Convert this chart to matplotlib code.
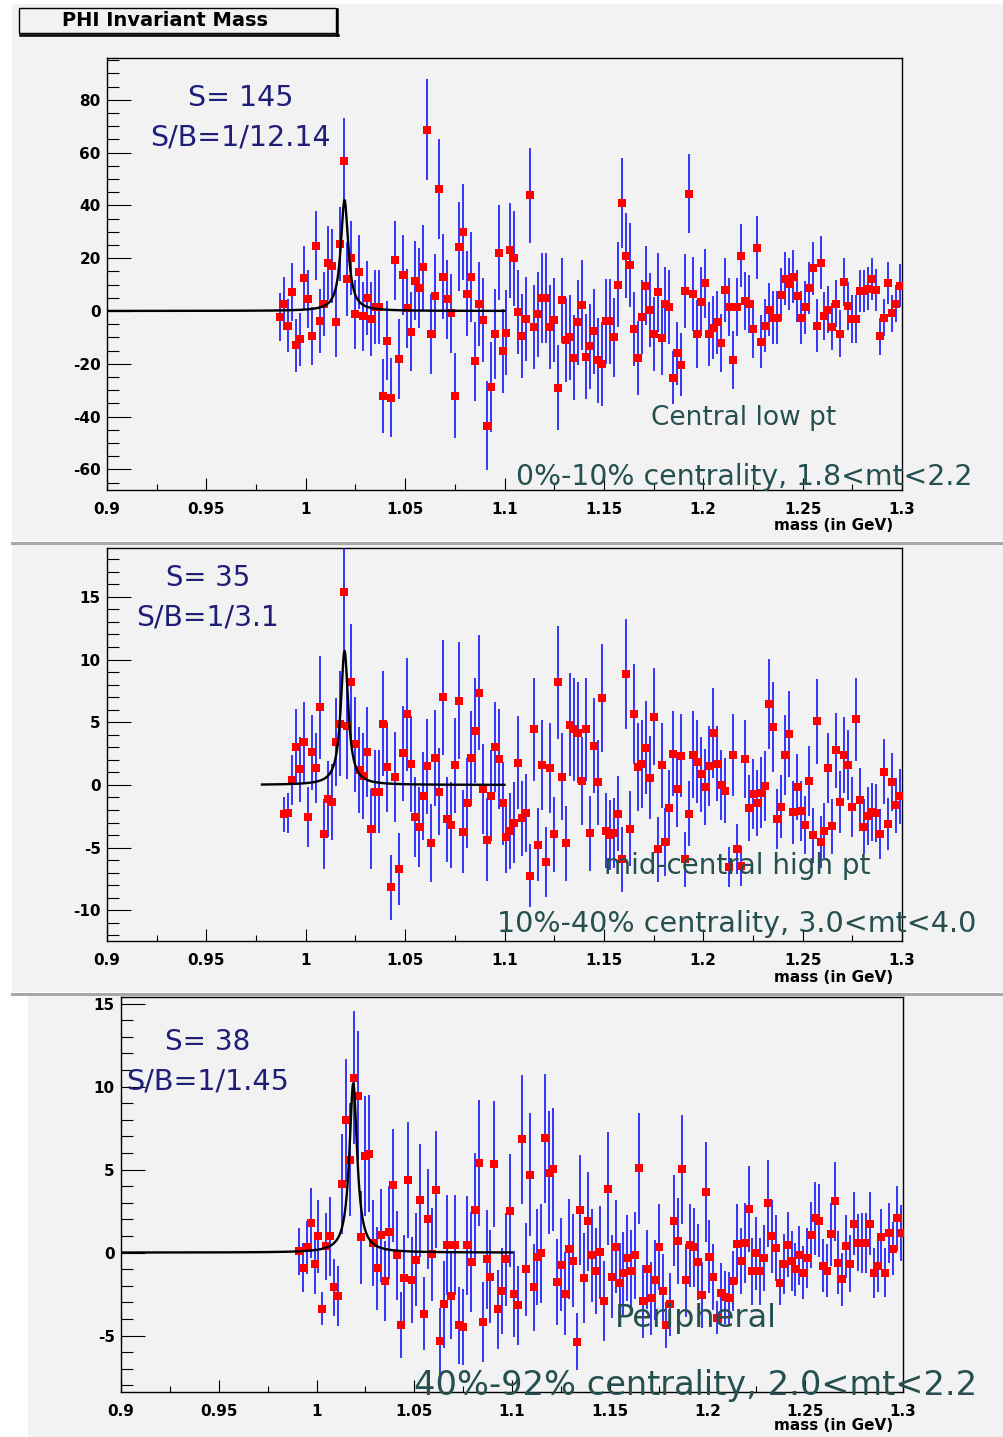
import numpy as np
import matplotlib
matplotlib.use('Agg')
import matplotlib.pyplot as plt
from matplotlib.patches import Rectangle
from matplotlib.lines import Line2D
from matplotlib.ticker import MultipleLocator, FixedLocator

# ---------------- data ----------------
x_ticks = [0.9, 0.95, 1.0, 1.05, 1.1, 1.15, 1.2, 1.25, 1.3]
x_tick_labels = ["0.9", "0.95", "1", "1.05", "1.1", "1.15", "1.2", "1.25", "1.3"]
bin_width = 0.002

# panel 1: central low pt
p1_start = 0.987
p1_vals = [-2.2, 2.7, -5.6, 7.1, -13, -10.7, 12.6, 4.4, -9.5, 24.7, -3.8, 2.7, 18.3, 17, -4.3, 25.3, 56.9, 12.1,
           20.1, -1.3, 14.8, -2, 4.9, -2.9, 1.4, 1.6, -32.1, -11.2, -32.8, 19.2, -18.2, 13.6, 1, -7.8, 11.4, 8.7,
           16.5, 68.7, -8.7, 5.7, 46.1, 13, 4.4, -0.9, -32.1, 24.4, 29.9, 6.6, 13, -19.1, 2.7, -3.4, -43.4, -28.7,
           -8.7, 22.1, -15.2, -8.2, 23, 20, -0.4, -9.5, -3, 43.9, -6.1, -1.3, 4.8, 4.8, -6.1, -3.4, -29, 4, -11, -10,
           -17.7, -4.3, 2.3, -17.3, -13.4, -7.7, -18.7, -20, -3.9, -3.9, -10, 10, 40.8, 21, 17.4, -6.8, -17.8, -2.2,
           9.6, 0.5, -8.7, 7.1, -10.4, 2.6, 1.4, -25.3, -16, -20.3, 7.5, 44.4, 6.6, -8.7, 3.5,
           10.5, -8.7, -6.3, -4.3, -12.1, 8, 1.4, -18.6, 1.4, 21, 3.7, 2.8, -6.8, 24, -11.6, -5.6, 0.5, -2.5, -2.5,
           6.2, 12.2, 10.2, 13, 5.7, -2.5, 1.4, 8.7, 16.2, -5.6, 18.3, -2, 0.5, -5.9, 2.8, -8.6, 11, 1.8, -3, -3,
           7.5, 7.5, 8.5, 12.2, 8, -9.5, -2.5, 10.5, -0.8, 2.8, 9.6]
p1_errs = [9, 10, 10, 11, 10, 10, 12, 11, 11, 13, 12, 12, 14, 14, 13, 14, 16, 14, 14, 13, 14, 13, 14, 14, 14, 14,
           14, 15, 15, 15, 15, 15, 15, 15, 15, 15, 16, 19, 15, 16, 19, 16, 15, 15, 16, 17, 18, 16, 17, 15, 16, 16,
           17, 17,
           17, 18, 16, 16, 18, 18, 16, 16, 16, 18, 16, 16, 17, 17, 16, 16, 16, 16, 16, 16, 16, 16, 17, 16, 16, 16,
           16, 16, 16, 16, 15, 16, 17, 16, 16, 14, 14, 14, 15, 14, 14, 15, 14, 14, 14, 10, 12, 12, 14, 15, 14, 13, 13,
           13, 12, 12, 12, 11, 12, 11, 11, 11, 12, 11, 11, 11, 12, 10, 10, 10, 10, 10, 10, 10, 10, 10, 10, 10, 10,
           10, 10, 10, 10, 9, 9, 9, 9, 9, 9, 9, 9, 9, 8, 8, 8, 8, 8, 7, 7, 8, 7, 7, 8]
p1_fit = dict(amp=42.0, m0=1.0195, gamma=0.0045, lo=0.9, hi=1.1)
p1_yticks = [-60, -40, -20, 0, 20, 40, 60, 80]

# panel 2: mid-central high pt
p2_start = 0.989
p2_vals = [-2.34, -2.26, 0.4, 3.06, 1.25, 3.43, -2.53, 2.61, 1.33, 6.2, -3.94, -1.12, -1.36, 3.43, 4.9, 15.4, 4.7,
           8.2, 3.25, 1.2, 0.72, 2.61, -3.49, -0.53, -0.53, 4.9, 1.41, -8.17, 0.61, -6.7, 2.53, 5.64, 1.68, -2.55,
           -3.38, -0.9, 1.49, -4.65, 2.15, -0.53, 7, -2.74, -3.19, 1.57, 6.73, -3.72, -1.46, 2.13, 4.34, 7.37, -0.35,
           -4.36, -0.85,
           3.03, 2.05, -1.46, -4.12, -3.67, -3, 1.76, -2.66, -2.26, -7.24, 4.44, -4.76, 1.57, -6.15, 1.33, -3.94, 8.2,
           0.67, -4.65, 4.82, 4.44, 4.18, 0.29, 4.44, -3.86, 3.14, 0.21, 6.92, -3.64, -4.02, -3.83, -2.29, -5.93,
           8.83, -3.49, 5.64, 1.44, 1.68, 2.98, 0.59, 5.45, -5.13, 1.57, -4.55, -1.81, 2.5, -0.35, 2.34, -5.93, -2.29,
           2.42, 1.86, 0.85,
           -0.16, 1.49, 4.15, 1.68, 0, -0.45, -6.52, 2.39, -5.13, -6.44, 2.05, -1.84, -0.72, -1.44, -0.61, -0.08,
           6.46, 4.6, -2.74, -1.73, 2.39, 4.07, -2.18, -0.16, -2.1, -3.22, 0.29, -4.02, 5.08, -4.55, -3.64, 1.33,
           -3.3, 2.77, -1.36, 2.39, 1.57, -1.73, 5.24, -1.17, -3.32, -2.47, -2.18, -2.26, -3.94, 1.04, -3.11, 0.21,
           -1.62, -0.9]
p2_errs = [1.4, 1.6, 2.0, 3.0, 2.6, 3.2, 2.4, 3.0, 2.8, 4.1, 2.8, 3.0, 3.0, 3.5, 4.2, 4.6, 4.2, 4.6, 3.8, 3.4, 3.4,
           3.6, 3.2, 3.3, 3.3, 4.2, 3.6, 2.6, 3.6, 2.9, 3.8, 4.5, 3.8, 3.2, 3.2, 3.5, 3.8, 3.1, 3.8, 3.5, 4.6, 3.4,
           3.4, 3.8, 4.7, 3.3, 3.6, 3.8, 4.2, 4.6, 3.6, 3.3, 3.6,
           3.6, 4.0, 3.3, 2.9, 3.0, 3.2, 3.7, 3.0, 3.1, 2.5, 4.1, 2.9, 3.6, 2.8, 3.6, 3.0, 4.5, 3.5, 3.0, 4.1, 4.1,
           4.0, 3.5, 4.1, 3.0, 3.8, 3.4, 4.3, 3.0, 2.8, 2.8, 3.0, 2.6, 4.4, 3.0, 4.0, 3.5, 3.5, 3.7, 3.3, 3.9, 2.6,
           3.4, 2.7, 3.0, 3.4, 3.0, 3.3, 2.2, 2.6, 3.5, 3.3, 3.0,
           3.0, 3.2, 3.6, 3.0, 2.8, 2.6, 1.6, 3.3, 2.0, 1.6, 3.1, 2.6, 2.8, 2.6, 2.8, 2.8, 3.6, 3.6, 2.4, 2.5, 3.2,
           3.4, 2.5, 2.6, 2.4, 2.3, 2.8, 2.2, 3.4, 2.1, 2.2, 2.8, 2.2, 3.0, 2.5, 3.0, 2.8, 2.4, 3.3, 2.5, 2.2, 2.3,
           2.3, 2.3, 2.0, 2.6, 2.1, 2.3, 2.2, 2.2]
p2_fit = dict(amp=10.7, m0=1.0195, gamma=0.0045, lo=0.978, hi=1.1)
p2_yticks = [-10, -5, 0, 5, 10, 15]

# panel 3: peripheral
p3_start = 0.991
p3_vals = [0.07, -0.9, 0.31, 1.8, -0.67, 0.97, -3.39, 0.37, 0.97, -2.1, -2.6, 4.13, 7.96, 5.59, 10.53, 9.45, 0.91,
           5.83, 5.97, 0.59, -0.93, 1.05, -1.7, 1.23, 4.05, -0.17, -4.35, -1.52, 4.39, -1.64, -0.43, 3.16, -3.68,
           2.02, -0.1, 3.8, -5.35, -3.12, 0.47, -2.6, 0.47, -4.39, -4.5, 0.43, -0.55, 2.58, 5.41, -4.2, -0.41, -1.46,
           5.33,
           -3.42, -2.3, -0.41, 2.52, -2.48, -3.18, 6.82, -1.01, 4.69, -2.1, -0.25, -0.05, 6.88, 4.81, 5.01, -1.78,
           -0.73, -2.48, 0.21, -0.49, -5.37, 2.58, -1.52, 1.88, -0.17, -1.13, 0.01, -2.92, 3.84, -1.46, 0.35, -1.82,
           -1.25, -0.33, -1.13, -0.17, 5.07, -2.92, -1.01, -2.74, -1.66, 0.35, -2.3, -4.35, -3.12, 1.92, 0.71, 5.01,
           -1.66, 0.43, 0.31, -0.55, -2.56,
           3.66, -0.25, -1.46, -3.93, -2.42, -2.7, -2.74, -1.72, 0.51, -0.49, 0.59, 2.64, -1.13, -0.05, -1.13, -0.31,
           2.96, 0.97, 0.27, -1.82, -0.69, 0.47, -0.49, -1.0, -0.17, -1.22, -0.33, 1.05, 2.06, 1.92, -0.8, -1.09,
           1.09, 3.08, -0.61, -1.6, 0.39, -0.67, 1.73, 0.6, 0.59, 0.59, 1.73, -1.22, -0.8, 0.91, -1.2, 1.17, 0.23,
           2.06, 1.17]
p3_errs = [1.4, 1.5, 1.6, 2.1, 1.8, 2.2, 1.0, 2.0, 2.4, 1.7, 1.8, 3.0, 3.7, 3.4, 4.0, 3.9, 2.8, 3.6, 3.5, 2.6, 2.5,
           2.8, 2.4, 2.8, 3.4, 2.7, 2.0, 2.6, 3.5, 2.6, 2.8, 3.4, 2.2, 3.0, 2.8, 3.5, 2.0, 2.6, 3.0, 2.6, 3.0, 2.3,
           2.3, 3.0, 3.0, 3.4, 3.8, 2.4, 3.0, 2.8, 3.8,
           2.4, 2.6, 2.8, 3.4, 2.6, 2.4, 3.9, 2.8, 3.7, 2.6, 2.9, 3.0, 3.9, 3.7, 3.7, 2.6, 2.8, 2.5, 3.0, 2.8, 1.7,
           3.3, 2.7, 3.0, 2.8, 2.6, 2.8, 2.4, 3.4, 2.5, 2.8, 2.4, 2.5, 2.6, 2.5, 2.6, 3.35, 2.2, 2.4, 2.2, 2.4, 2.6,
           2.2, 1.4, 1.9, 2.75, 2.6, 3.3, 2.2, 2.5, 2.4, 2.3, 2.0,
           3.0, 2.2, 2.0, 1.0, 1.8, 1.6, 1.6, 1.8, 2.4, 2.0, 2.4, 2.6, 2.0, 2.2, 2.0, 2.0, 2.6, 2.2, 2.0, 1.35, 1.8,
           1.95, 1.8, 1.6, 1.8, 1.6, 1.8, 2.0, 2.2, 2.2, 1.6, 1.6, 1.9, 2.4, 1.9, 1.6, 1.9, 1.7, 1.9, 1.7, 1.8, 1.8,
           1.9, 1.5, 1.6, 1.7, 1.5, 1.8, 1.6, 1.95, 1.7]
p3_fit = dict(amp=10.2, m0=1.0188, gamma=0.0048, lo=0.9, hi=1.1)
p3_yticks = [-5, 0, 5, 10, 15]

title_text = "PHI Invariant Mass"
xlabel_text = "mass (in GeV)"
p1_texts = ["S= 145", "S/B=1/12.14", "Central low pt", "0%-10% centrality, 1.8<mt<2.2"]
p2_texts = ["S= 35", "S/B=1/3.1", "mid-central high pt", "10%-40% centrality, 3.0<mt<4.0"]
p3_texts = ["S= 38", "S/B=1/1.45", "Peripheral", "40%-92% centrality, 2.0<mt<2.2"]

# ---------------- figure ----------------
W, H = 1004, 1437
fig = plt.figure(figsize=(W / 100, H / 100), dpi=100)
fig.patch.set_facecolor('white')
PAD = '#f2f2f2'
NAVY = '#1e1e78'
SLATE = '#265050'


def fx(px):
    return px / W


def fy(py):
    return 1 - py / H


for (x0, y0, x1, y1) in [(12, 4, 1004, 541), (12, 545, 1004, 992), (28, 996, 1004, 1437)]:
    fig.add_artist(Rectangle((fx(x0), fy(y1)), fx(x1) - fx(x0), fy(y0) - fy(y1),
                             transform=fig.transFigure, facecolor=PAD, edgecolor='none', zorder=-10))
for y in [543, 994]:
    fig.add_artist(Line2D([fx(12), fx(1004)], [fy(y), fy(y)], transform=fig.transFigure,
                          color='#a8a8a8', lw=2.2, zorder=-5))

# title box
fig.add_artist(Rectangle((fx(19), fy(33)), fx(336) - fx(19), fy(8) - fy(33), transform=fig.transFigure,
                         facecolor=PAD, edgecolor='black', lw=1.0, zorder=5))
fig.add_artist(Line2D([fx(20), fx(338)], [fy(34.5), fy(34.5)], transform=fig.transFigure, color='black', lw=1.8, zorder=5))
fig.add_artist(Line2D([fx(337.5), fx(337.5)], [fy(9), fy(35)], transform=fig.transFigure, color='black', lw=1.8, zorder=5))
fig.text(fx(165), fy(21), title_text, ha='center', va='center', fontweight='bold', fontsize=14, zorder=6)


def panel(box, ylim, yticks, yminor, start, vals, errs, fit, texts, tpos, tsizes, xlabel_y):
    l, t, r, b = box
    ax = fig.add_axes([fx(l), fy(b), fx(r) - fx(l), fy(t) - fy(b)])
    ax.set_facecolor(PAD)
    m = start + bin_width * np.arange(len(vals))
    ax.errorbar(m, vals, yerr=errs, fmt='s', color='#ff0000', ecolor='#1f1fff', elinewidth=1.25,
                capsize=2.6, capthick=1.25, markersize=5.4, markeredgewidth=0, zorder=3)
    mm = np.linspace(fit['lo'], fit['hi'], 2000)
    ax.plot(mm, fit['amp'] / (1 + ((mm - fit['m0']) / (fit['gamma'] / 2)) ** 2), color='black', lw=1.7, zorder=4)
    ax.set_xlim(0.9, 1.3)
    ax.set_ylim(*ylim)
    ax.xaxis.set_major_locator(FixedLocator(x_ticks))
    ax.set_xticklabels(x_tick_labels)
    ax.xaxis.set_minor_locator(MultipleLocator(0.025))
    ax.yaxis.set_major_locator(FixedLocator(yticks))
    ax.set_yticklabels([str(v) for v in yticks])
    ax.yaxis.set_minor_locator(MultipleLocator(yminor))
    ax.tick_params(axis='x', which='major', direction='in', length=9, width=0.8, pad=8.5, labelsize=11)
    ax.tick_params(axis='x', which='minor', direction='in', length=4.5, width=0.8)
    ax.tick_params(axis='y', which='major', direction='in', length=17, width=0.8, pad=4.5, labelsize=11)
    ax.tick_params(axis='y', which='minor', direction='in', length=8.5, width=0.8)
    for lab in ax.get_xticklabels() + ax.get_yticklabels():
        lab.set_fontweight('bold')
    for s in ax.spines.values():
        s.set_linewidth(1.0)
        s.set_color('black')
    fig.text(fx(893), fy(xlabel_y), xlabel_text, ha='right', va='center', fontweight='bold', fontsize=11)
    cols = [NAVY, NAVY, SLATE, SLATE]
    for txt, (px, py), fs, c in zip(texts, tpos, tsizes, cols):
        fig.text(fx(px), fy(py), txt, ha='center', va='center', fontsize=fs, color=c, zorder=10)
    return ax


panel((107, 58, 902, 490), (-67.8, 95.8), p1_yticks, 5, p1_start, p1_vals, p1_errs, p1_fit, p1_texts,
      [(241, 98), (240, 137), (744, 418), (744, 477)], [20.5, 20.5, 19, 20.4], 526)
panel((107, 548, 902, 941), (-12.45, 18.9), p2_yticks, 1, p2_start, p2_vals, p2_errs, p2_fit, p2_texts,
      [(208, 578), (208, 617), (737, 866), (737, 924)], [19.8, 20.3, 20, 20.6], 977)
panel((121, 997, 903, 1392), (-8.4, 15.4), p3_yticks, 1, p3_start, p3_vals, p3_errs, p3_fit, p3_texts,
      [(208, 1042), (208, 1081), (696, 1318), (696, 1385)], [20, 20.6, 23, 24.2], 1426)

fig.savefig('out.png', dpi=100, facecolor='white')
